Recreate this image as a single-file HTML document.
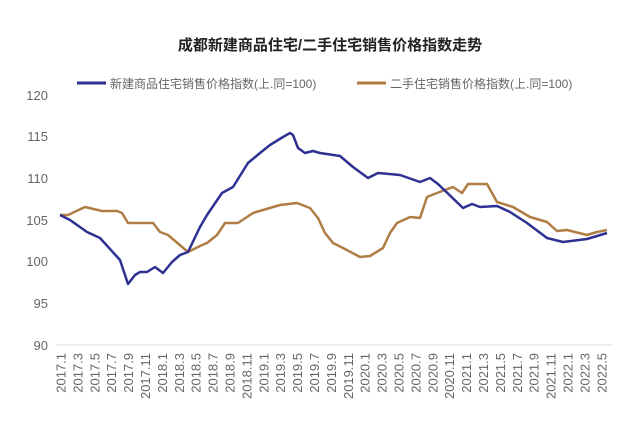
<!DOCTYPE html>
<html><head><meta charset="utf-8"><style>
body{margin:0;background:#fff;}
svg text{font-family:"Liberation Sans","Noto Sans CJK SC",sans-serif;}
</style></head><body>
<svg width="640" height="429" viewBox="0 0 640 429" xmlns="http://www.w3.org/2000/svg">
<rect width="640" height="429" fill="#fff"/>
<text x="330" y="50" text-anchor="middle" font-size="15" font-weight="bold" fill="#222">成都新建商品住宅/二手住宅销售价格指数走势</text>
<line x1="77" y1="83" x2="106" y2="83" stroke="#2e3192" stroke-width="3"/>
<text x="110" y="88" font-size="12" fill="#666">新建商品住宅销售价格指数(上.同=100)</text>
<line x1="357" y1="83" x2="386" y2="83" stroke="#b07d45" stroke-width="3"/>
<text x="390" y="88" font-size="12" fill="#666">二手住宅销售价格指数(上.同=100)</text>
<g font-size="13" fill="#666" text-anchor="end">
<text x="48" y="100">120</text><text x="48" y="141">115</text><text x="48" y="183">110</text>
<text x="48" y="225">105</text><text x="48" y="266">100</text><text x="48" y="308">95</text><text x="48" y="350">90</text>
</g>
<line x1="56" y1="345" x2="612" y2="345" stroke="#d9d9d9" stroke-width="1"/>
<g font-size="13" fill="#666" text-anchor="end">
<text transform="translate(65.5,353) rotate(-90)">2017.1</text>
<text transform="translate(82.4,353) rotate(-90)">2017.3</text>
<text transform="translate(99.3,353) rotate(-90)">2017.5</text>
<text transform="translate(116.2,353) rotate(-90)">2017.7</text>
<text transform="translate(133.1,353) rotate(-90)">2017.9</text>
<text transform="translate(150,353) rotate(-90)">2017.11</text>
<text transform="translate(166.9,353) rotate(-90)">2018.1</text>
<text transform="translate(183.8,353) rotate(-90)">2018.3</text>
<text transform="translate(200.7,353) rotate(-90)">2018.5</text>
<text transform="translate(217.6,353) rotate(-90)">2018.7</text>
<text transform="translate(234.5,353) rotate(-90)">2018.9</text>
<text transform="translate(251.4,353) rotate(-90)">2018.11</text>
<text transform="translate(268.3,353) rotate(-90)">2019.1</text>
<text transform="translate(285.2,353) rotate(-90)">2019.3</text>
<text transform="translate(302.1,353) rotate(-90)">2019.5</text>
<text transform="translate(319,353) rotate(-90)">2019.7</text>
<text transform="translate(335.9,353) rotate(-90)">2019.9</text>
<text transform="translate(352.8,353) rotate(-90)">2019.11</text>
<text transform="translate(369.7,353) rotate(-90)">2020.1</text>
<text transform="translate(386.6,353) rotate(-90)">2020.3</text>
<text transform="translate(403.5,353) rotate(-90)">2020.5</text>
<text transform="translate(420.4,353) rotate(-90)">2020.7</text>
<text transform="translate(437.3,353) rotate(-90)">2020.9</text>
<text transform="translate(454.2,353) rotate(-90)">2020.11</text>
<text transform="translate(471.1,353) rotate(-90)">2021.1</text>
<text transform="translate(488,353) rotate(-90)">2021.3</text>
<text transform="translate(504.9,353) rotate(-90)">2021.5</text>
<text transform="translate(521.8,353) rotate(-90)">2021.7</text>
<text transform="translate(538.7,353) rotate(-90)">2021.9</text>
<text transform="translate(555.6,353) rotate(-90)">2021.11</text>
<text transform="translate(572.5,353) rotate(-90)">2022.1</text>
<text transform="translate(589.4,353) rotate(-90)">2022.3</text>
<text transform="translate(606.3,353) rotate(-90)">2022.5</text>
</g>
<polyline fill="none" stroke="#b07d45" stroke-width="2.5" stroke-linejoin="round" points="60,215 68,215 85,207 102,211 117,211 122,213 128,223 153,223 160,232 168,235 188,252 200,246 207,243 217,235 225,223 238,223 253,213 263,210 280,205 297,203 310,208 318,218 325,233 333,243 343,248 360,257 370,256 383,248 390,233 397,223 410,217 420,218 427,197 437,193 453,187 462,193 468,184 487,184 497,202 513,207 530,217 547,222 557,231 567,230 587,235 597,232 607,230"/>
<polyline fill="none" stroke="#2e3192" stroke-width="2.5" stroke-linejoin="round" points="60,215 70,220 87,232 100,238 120,260 128,284 135,275 140,272 147,272 155,267 163,273 172,262 180,255 188,252 200,227 207,215 222,193 233,187 248,163 260,153 270,145 283,137 290,133 293,135 298,148 305,153 313,151 320,153 340,156 353,167 368,178 378,173 400,175 420,182 430,178 438,184 463,208 472,204 480,207 497,206 510,212 527,223 547,238 563,242 587,239 607,233"/>
</svg>
</body></html>
